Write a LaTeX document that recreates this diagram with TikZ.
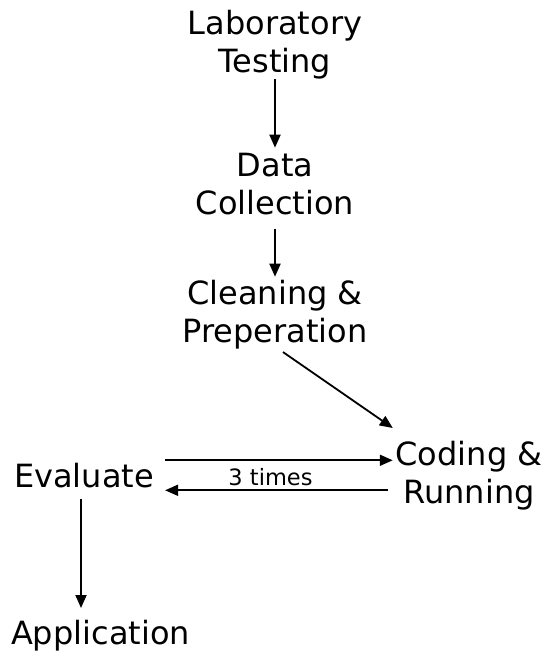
\documentclass[tikz,border=0pt]{standalone}
\usepackage{fontspec}
\setmainfont{DejaVu Sans}
\usetikzlibrary{arrows.meta}
\tikzset{
  lbl/.style={inner sep=0pt, align=center, font=\fontsize{32pt}{38pt}\selectfont},
  small/.style={inner sep=0pt, font=\fontsize{22.5pt}{26pt}\selectfont},
  arr/.style={line width=1.8pt, -{Triangle[length=13pt,width=11pt]}}
}
\begin{document}
\begin{tikzpicture}
\useasboundingbox (0pt,0pt) rectangle (550pt,-661pt);
\node[lbl, anchor=north] (lab) at (275pt,-9.7pt) {Laboratory\\Testing};
\node[lbl, anchor=north] (data) at (275pt,-152.7pt) {Data\\Collection};
\node[lbl, anchor=north] (clean) at (275pt,-279.7pt) {Cleaning \&\\Preperation};
\node[lbl, anchor=north] (coding) at (469pt,-440.7pt) {Coding \&\\Running};
\node[lbl, anchor=north] (eval) at (84pt,-462.7pt) {Evaluate};
\node[lbl, anchor=north] (app) at (100.5pt,-619.7pt) {Application};
\node[small] (times) at (270.5pt,-477pt) {3 times};

\draw[arr] (lab.south) -- ([yshift=5pt]data.north);
\draw[arr] ([yshift=-14pt]data.south) -- ([yshift=3pt]clean.north);
\draw[arr] ([shift={(8pt,-3pt)}]clean.south) -- ([shift={(-2.6pt,12.7pt)}]coding.north west);

\coordinate (cwU) at ([xshift=-2.6pt]coding.west);
\coordinate (cwL) at ([xshift=-7.6pt]coding.west);
\coordinate (eU) at ([shift={(11pt,15pt)}]eval.east);
\coordinate (eL) at ([shift={(11pt,-15pt)}]eval.east);
\draw[arr] (eU) -- (eU -| cwU);
\draw[arr] (eL -| cwL) -- (eL);

\coordinate (d1) at ([shift={(-3pt,-11pt)}]eval.south);
\draw[arr, shorten >=11.7pt] (d1) -- (d1 |- app.north);
\end{tikzpicture}
\end{document}
